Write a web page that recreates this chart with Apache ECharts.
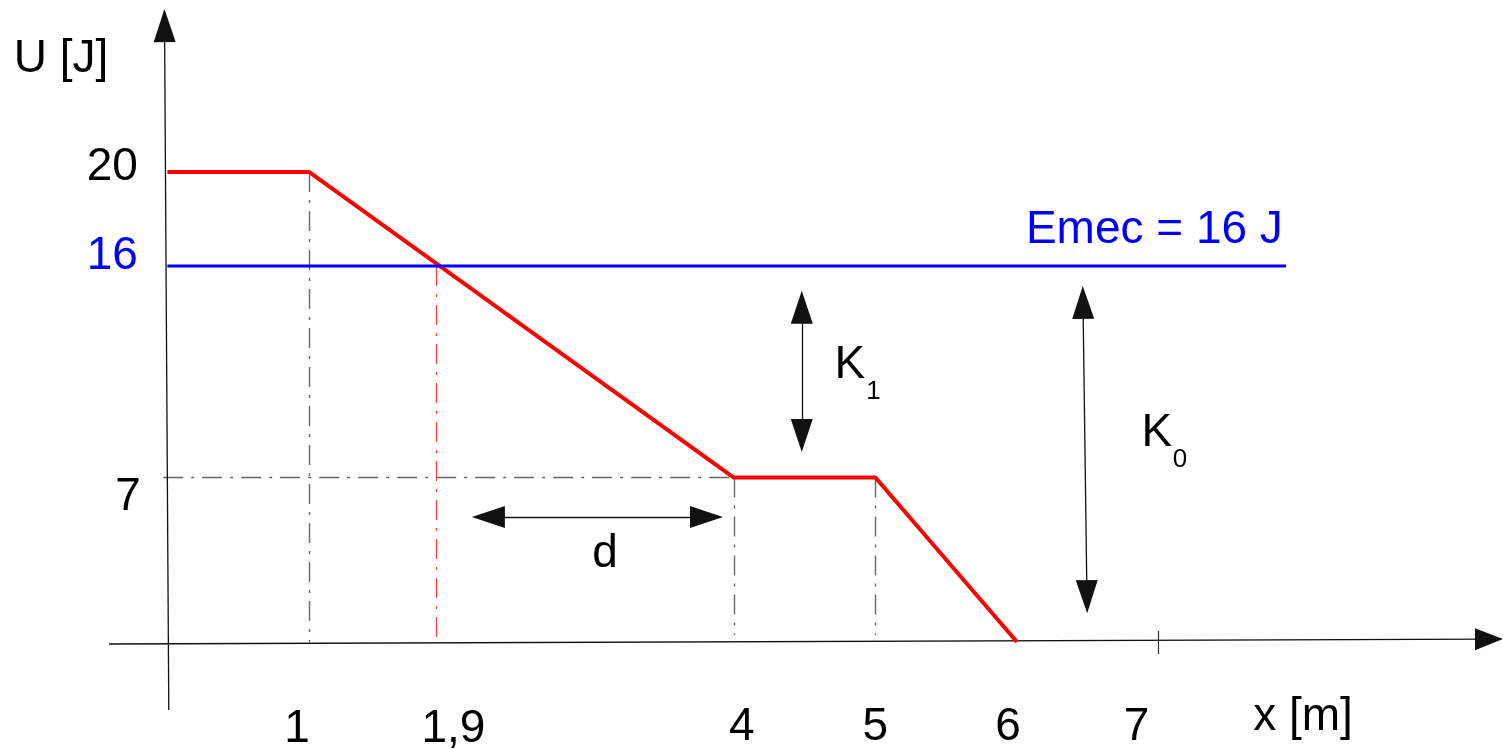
<!DOCTYPE html>
<html>
<head>
<meta charset="utf-8">
<title>U(x)</title>
<script src="https://cdn.jsdelivr.net/npm/echarts@6.0.0/dist/echarts.min.js"></script>
<style>
  html, body { margin: 0; padding: 0; background: #fff; }
  #chart { width: 1503px; height: 749px; }
</style>
</head>
<body>
<div id="chart"></div>
<script>
// potential energy U(x), piecewise linear
var xPoints = [0, 1, 4, 5, 6];
var uPoints = [20, 20, 7, 7, 0];

// mechanical energy (horizontal line)
var emec = 16;
var emecEnd = 7.9;

// turning point where U = Emec
var xTurn = 1.9;

var xTicks = [1, 1.9, 4, 5, 6, 7];
var yTicks = [20, 16, 7];

var FONT = "Liberation Sans";
var RED = "#ff0000";
var BLUE = "#0000ff";

var chart = echarts.init(document.getElementById("chart"));

var curve = xPoints.map(function (x, i) { return [x, uPoints[i]]; });

// dash-dot helper lines
var guideStyle = { color: "#666", width: 1.4, type: [20, 8, 3, 8], opacity: 1 };
var guides = [
  { coords: [[1, 20], [1, 0]] },
  { coords: [[xTurn, emec], [xTurn, 0]], lineStyle: { color: "#ff3b3b", width: 1.2, type: [20, 8, 3, 8], opacity: 1 } },
  { coords: [[4, 7], [4, 0.3]] },
  { coords: [[5, 7], [5, 0.3]] },
  { coords: [[-0.03, 7], [4, 7]] }
];

// axes drawn by hand (slightly tilted like the sketch), arrow at the end
var axes = [
  { coords: [[-0.412, -0.085], [9.333, 0.123]], symbolSize: [[1, 1], [22, 28]] },
  { coords: [[0.01, -2.894], [-0.02, 26.23]], symbolSize: [[1, 1], [22, 33]] }
];

// double arrows K1, K0, d
var arrows = [
  { coords: [[4.48, 14.24], [4.48, 8.79]] },
  { coords: [[6.466, 14.45], [6.494, 1.93]] },
  { coords: [[2.267, 5.32], [3.807, 5.32]] }
];

var notes = [
  { name: "U [J]", value: [-0.751, 24.79] },
  { name: "Emec = 16 J", value: [6.97, 17.51], label: { color: BLUE } },
  { name: "d", value: [3.09, 3.72] },
  { name: "K", value: [4.82, 11.77] },
  { name: "1", value: [4.987, 10.64], label: { fontSize: 26 } },
  { name: "K", value: [6.987, 8.87] },
  { name: "0", value: [7.15, 7.74], label: { fontSize: 26 } },
  { name: "x [m]", value: [8.02, -3.21] }
];

// tick labels: x row sits below the axis, y column left of the axis
// (the sketch is not to scale, so labels are nudged to where they were drawn)
var xLabelRow = -3.7;
var xLabelShift = { 1: [-12, 0], 1.9: [17, 0], 4: [8, -2], 5: [0, -2], 6: [-9, -2], 7: [-22, -2] };
var yLabelCol = -0.208;
var yLabelShift = { 20: [0, -5], 16: [0, -10], 7: [3, 19.5] };

var tickLabels = xTicks.map(function (v) {
  return {
    name: String(v).replace(".", ","),
    value: [v, xLabelRow],
    label: { offset: xLabelShift[v] }
  };
}).concat(yTicks.map(function (v) {
  return {
    name: String(v),
    value: [yLabelCol, v],
    label: { align: "right", offset: yLabelShift[v], color: v === emec ? BLUE : "#000" }
  };
}));

var textLabel = {
  show: true,
  position: "inside",
  formatter: "{b}",
  fontSize: 46,
  fontFamily: FONT,
  color: "#000",
  opacity: 1
};

var option = {
  animation: false,
  backgroundColor: "#fff",
  grid: { left: 0, right: 0, top: 0, bottom: 0, outerBoundsMode: "none" },
  xAxis: {
    type: "value",
    min: -1.182,
    max: 9.432,
    axisLine: { show: false },
    axisTick: { show: false },
    axisLabel: { show: false },
    splitLine: { show: false }
  },
  yAxis: {
    type: "value",
    min: -4.553,
    max: 27.319,
    axisLine: { show: false },
    axisTick: { show: false },
    axisLabel: { show: false },
    splitLine: { show: false }
  },
  series: [
    {
      type: "lines",
      coordinateSystem: "cartesian2d",
      silent: true,
      z: 1,
      lineStyle: guideStyle,
      data: guides
    },
    {
      type: "line",
      name: "U",
      data: curve,
      symbol: "none",
      z: 3,
      lineStyle: { color: RED, width: 4 }
    },
    {
      type: "line",
      name: "Emec",
      data: [[0, emec], [emecEnd, emec]],
      symbol: "none",
      z: 3,
      lineStyle: { color: BLUE, width: 3 }
    },
    {
      type: "lines",
      coordinateSystem: "cartesian2d",
      silent: true,
      z: 2,
      symbol: ["none", "triangle"],
      lineStyle: { color: "#111", width: 1.3, opacity: 1 },
      itemStyle: { color: "#000" },
      data: axes
    },
    {
      type: "lines",
      coordinateSystem: "cartesian2d",
      silent: true,
      z: 2,
      symbol: ["triangle", "triangle"],
      symbolSize: [[22, 33], [22, 33]],
      lineStyle: { color: "#111", width: 1.3, opacity: 1 },
      itemStyle: { color: "#000" },
      data: arrows
    },
    {
      type: "lines",
      coordinateSystem: "cartesian2d",
      silent: true,
      z: 2,
      lineStyle: { color: "#333", width: 1.2, opacity: 1 },
      data: [{ coords: [[7, 0.47], [7, -0.51]] }]
    },
    {
      type: "scatter",
      symbolSize: 0,
      silent: true,
      z: 5,
      itemStyle: { opacity: 1 },
      label: textLabel,
      data: notes.concat(tickLabels)
    }
  ]
};

chart.setOption(option);
</script>
</body>
</html>
